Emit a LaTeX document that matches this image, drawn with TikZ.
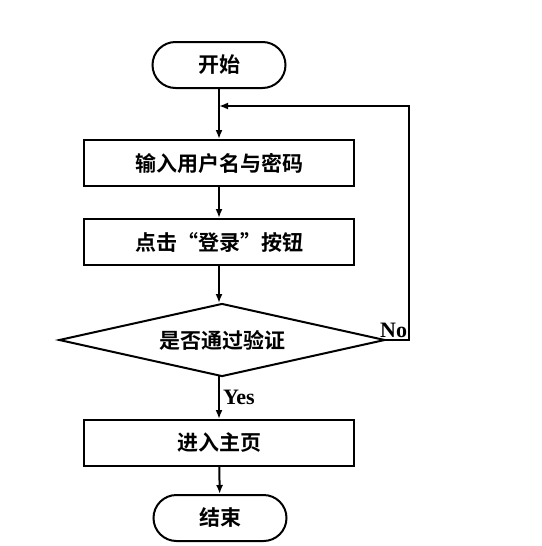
\documentclass[tikz,border=0pt]{standalone}
\usepackage{fontspec}
\setmainfont{Liberation Serif}
\newfontfamily\cjk{Noto Sans CJK SC}[BoldFont={* Bold}]
\usetikzlibrary{arrows.meta,positioning,shapes.geometric,shapes.misc}

\begin{document}
\begin{tikzpicture}[
  x=1pt, y=-1pt, >={Latex[length=9pt,width=7pt]},
  every node/.style={font=\fontsize{22}{24}\selectfont\bfseries},
  every path/.style={line width=2pt},
  terminal/.style={draw, rounded rectangle, minimum width=133pt,
                   minimum height=46pt, inner sep=0pt, font=\fontsize{21}{24}\selectfont\bfseries\cjk},
  process/.style={draw, rectangle, minimum width=270pt, minimum height=46pt,
                  inner sep=0pt, font=\fontsize{21}{24}\selectfont\bfseries\cjk},
  decision/.style={draw, diamond, aspect=4.5, minimum width=326pt,
                   minimum height=73pt, inner sep=0pt, font=\fontsize{21}{24}\selectfont\bfseries\cjk}
]
  \useasboundingbox (0,0) rectangle (541,546);
  % flow
  \node[terminal] (start) at (219,65) {开始};
  \node[process]  (input) at (219,163) {输入用户名与密码};
  \node[process]  (click) at (219,242) {点击“登录”按钮};
  \node[decision] (check) at (222,340) {是否通过验证};
  \node[process]  (home)  at (219,443) {进入主页};
  \node[terminal] (stop)  at (220,518) {结束};
  \coordinate (merge) at (219,106);

  \draw[->] (start) -- (input);
  \draw[->] (input) -- (click);
  \draw[->] (click.south) -- (219,303);
  \draw[->] (219,376) -- (home.north) node[midway, right, inner sep=3pt] {Yes};
  \draw[->] (home) -- (stop);
  \draw[->] (check.east) -- ++(23,0) node[anchor=south east, inner sep=1pt] {No}
        |- (merge);
\end{tikzpicture}
\end{document}
